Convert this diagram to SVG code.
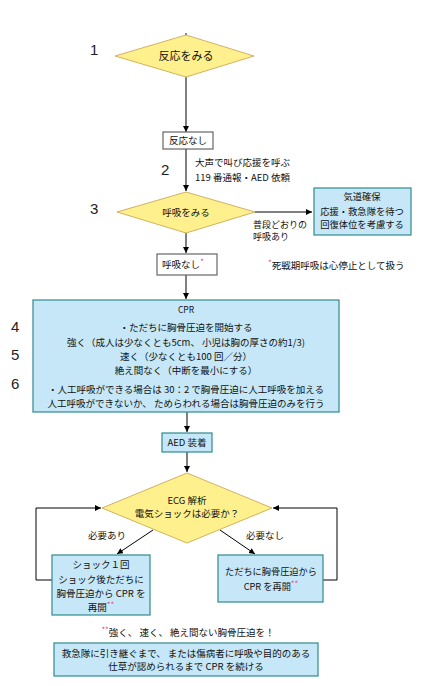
<svg xmlns="http://www.w3.org/2000/svg" width="445" height="686" viewBox="0 0 445 686">
<defs>
<style>
.t{font-family:"Noto Sans CJK JP","Liberation Sans",sans-serif;font-size:9.5px;fill:#111}
.m{text-anchor:middle}
.num{font-family:"Liberation Sans",sans-serif;font-size:15px;fill:#222}
.dia{fill:#FEF08C;stroke:#D2B260;stroke-width:1}
.blue{fill:#C6E7F7;stroke:#2F8A8C;stroke-width:1.2}
.white{fill:#fff;stroke:#666;stroke-width:1.2}
.ln{stroke:#000;stroke-width:1;fill:none}
.red{fill:#E8457A}
</style>
<marker id="arr" markerUnits="userSpaceOnUse" markerWidth="7" markerHeight="7" refX="6" refY="3" orient="auto">
<path d="M0,0 L6,3 L0,6 z" fill="#000"/>
</marker>
</defs>
<rect width="445" height="686" fill="#fff"/>

<g id="numbers">
<text class="num" x="90" y="55">1</text>
<text class="num" x="161" y="175">2</text>
<text class="num" x="90" y="214">3</text>
<text class="num" x="11" y="332">4</text>
<text class="num" x="11" y="360">5</text>
<text class="num" x="11" y="389">6</text>
</g>

<g id="connectors">
<line class="ln" x1="186" y1="33" x2="186" y2="36"/>
<line class="ln" x1="186" y1="77" x2="186" y2="132" marker-end="url(#arr)"/>
<line class="ln" x1="186" y1="149" x2="186" y2="191" marker-end="url(#arr)"/>
<line class="ln" x1="255" y1="212" x2="312" y2="212" marker-end="url(#arr)"/>
<line class="ln" x1="186" y1="233" x2="186" y2="253" marker-end="url(#arr)"/>
<line class="ln" x1="186" y1="275" x2="186" y2="299" marker-end="url(#arr)"/>
<line class="ln" x1="187" y1="412" x2="187" y2="432" marker-end="url(#arr)"/>
<line class="ln" x1="187" y1="452" x2="187" y2="472" marker-end="url(#arr)"/>
<line class="ln" x1="153" y1="530" x2="117" y2="554" marker-end="url(#arr)"/>
<line class="ln" x1="220" y1="530" x2="255" y2="554" marker-end="url(#arr)"/>
<polyline class="ln" points="52,580 36,580 36,508 101,508" marker-end="url(#arr)"/>
<polyline class="ln" points="323,580 337,580 337,508 273,508" marker-end="url(#arr)"/>
</g>

<g id="n1">
<polygon class="dia" points="115,56 186,35 254,56 186,77"/>
<text class="t m" x="186" y="60" style="font-size:11px">反応をみる</text>
</g>

<g id="n2">
<rect class="white" x="163" y="132" width="50" height="17"/>
<text class="t m" x="188" y="144">反応なし</text>
</g>

<g id="callhelp">
<text class="t" x="195" y="166">大声で叫び応援を呼ぶ</text>
<text class="t" x="195" y="181">119 番通報・AED 依頼</text>
</g>

<g id="n3">
<polygon class="dia" points="117,212 186,192 255,212 186,233"/>
<text class="t m" x="186" y="216">呼吸をみる</text>
</g>

<g id="breathing">
<text class="t" x="253" y="228" style="font-size:9px">普段どおりの</text>
<text class="t" x="253" y="240" style="font-size:9px">呼吸あり</text>
</g>

<g id="n4">
<rect class="blue" x="314" y="188" width="97" height="47"/>
<text class="t m" x="362" y="200" style="font-size:9.3px">気道確保</text>
<text class="t m" x="362" y="215" style="font-size:9.3px">応援・救急隊を待つ</text>
<text class="t m" x="362" y="228" style="font-size:9.3px">回復体位を考慮する</text>
</g>

<g id="n5">
<rect class="white" x="157" y="254" width="60" height="21"/>
<text class="t m" x="183" y="268">呼吸なし<tspan class="red" dy="-3" style="font-size:8px">*</tspan></text>
</g>

<g id="note1">
<text class="t" x="268" y="269"><tspan class="red" dy="-3" style="font-size:8px">*</tspan><tspan dy="3">死戦期呼吸は心停止として扱う</tspan></text>
</g>

<g id="n6">
<rect class="blue" x="33" y="300" width="306" height="112"/>
<text class="t m" x="186" y="313" style="font-size:8.5px">CPR</text>
<text class="t m" x="186" y="331">・ただちに胸骨圧迫を開始する</text>
<text class="t m" x="186" y="346">強く（成人は少なくとも5cm、 小児は胸の厚さの約1/3)</text>
<text class="t m" x="186" y="360">速く（少なくとも100 回／分）</text>
<text class="t m" x="186" y="374">絶え間なく（中断を最小にする）</text>
<text class="t m" x="186" y="393">・人工呼吸ができる場合は 30：2 で胸骨圧迫に人工呼吸を加える</text>
<text class="t m" x="186" y="407">人工呼吸ができないか、 ためらわれる場合は胸骨圧迫のみを行う</text>
</g>

<g id="n7">
<rect class="blue" x="162" y="433" width="50" height="19"/>
<text class="t m" x="187" y="446">AED 装着</text>
</g>

<g id="n8">
<polygon class="dia" points="102,508 187,473 272,508 187,543"/>
<text class="t m" x="187" y="504">ECG 解析</text>
<text class="t m" x="187" y="517">電気ショックは必要か？</text>
</g>

<g id="labels">
<text class="t m" x="107" y="539">必要あり</text>
<text class="t m" x="265" y="539">必要なし</text>
</g>

<g id="n9">
<rect class="blue" x="52" y="555" width="98" height="60"/>
<text class="t m" x="101" y="568">ショック１回</text>
<text class="t m" x="101" y="583">ショック後ただちに</text>
<text class="t m" x="101" y="597">胸骨圧迫から CPR を</text>
<text class="t m" x="101" y="611">再開<tspan class="red" dy="-3" style="font-size:8px">**</tspan></text>
</g>

<g id="n10">
<rect class="blue" x="218" y="555" width="105" height="47"/>
<text class="t m" x="271" y="575" style="font-size:9.2px">ただちに胸骨圧迫から</text>
<text class="t m" x="271" y="590" style="font-size:9.2px">CPR を再開<tspan class="red" dy="-3" style="font-size:8px">**</tspan></text>
</g>

<g id="note2">
<text class="t m" x="188" y="636"><tspan class="red" dy="-3" style="font-size:8px">**</tspan><tspan dy="3">強く、 速く、 絶え間ない胸骨圧迫を！</tspan></text>
</g>

<g id="n11">
<rect class="blue" x="54" y="643" width="264" height="33"/>
<text class="t m" x="186" y="657">救急隊に引き継ぐまで、 または傷病者に呼吸や目的のある</text>
<text class="t m" x="186" y="670">仕草が認められるまで CPR を続ける</text>
</g>
</svg>
